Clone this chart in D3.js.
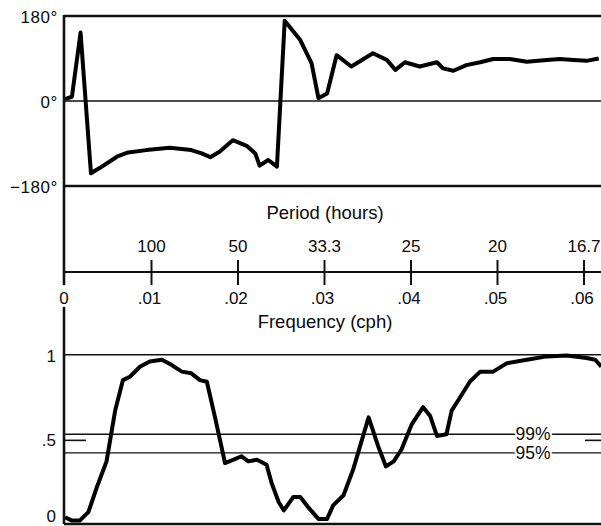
<!DOCTYPE html>
<html>
<head>
<meta charset="utf-8">
<script src="https://cdn.jsdelivr.net/npm/d3@7"></script>
<style>
  body { margin: 0; background: #fff; }
  svg text { font-family: "Liberation Sans", Arial, sans-serif; fill: #0a0a0a; }
</style>
</head>
<body>
<div id="chart"></div>
<script>
// phase (degrees) vs frequency (cph)
const phaseFreq = [0.0000, 0.0008, 0.0018, 0.0030, 0.0040, 0.0060, 0.0073, 0.0094, 0.0121, 0.0146,
    0.0158, 0.0168, 0.0179, 0.0194, 0.0210, 0.0220, 0.0225, 0.0235, 0.0245, 0.0254,
    0.0272, 0.0285, 0.0293, 0.0303, 0.0314, 0.0331, 0.0356, 0.0372, 0.0382, 0.0393,
    0.0410, 0.0430, 0.0437, 0.0449, 0.0464, 0.0480, 0.0495, 0.0514, 0.0534, 0.0557,
    0.0572, 0.0588, 0.0603, 0.0617];
const phaseDeg = [4, 9, 145, -153, -142, -118, -109, -104, -99, -104,
    -111, -119, -107, -83, -95, -111, -137, -125, -139, 170,
    129, 80, 6, 16, 97, 73, 101, 87, 66, 82,
    73, 82, 69, 64, 76, 82, 89, 89, 83, 87,
    89, 87, 85, 90];

// coherence vs frequency
const cohFreq = [0.0000, 0.0008, 0.0017, 0.0027, 0.0037, 0.0048, 0.0058, 0.0067, 0.0075, 0.0087,
    0.0098, 0.0112, 0.0123, 0.0135, 0.0146, 0.0156, 0.0164, 0.0173, 0.0185, 0.0195,
    0.0204, 0.0212, 0.0222, 0.0233, 0.0239, 0.0247, 0.0253, 0.0264, 0.0272, 0.0281,
    0.0293, 0.0303, 0.0310, 0.0322, 0.0333, 0.0351, 0.0362, 0.0371, 0.0380, 0.0389,
    0.0401, 0.0414, 0.0422, 0.0430, 0.0441, 0.0447, 0.0457, 0.0468, 0.0480, 0.0495,
    0.0511, 0.0534, 0.0557, 0.0580, 0.0603, 0.0613, 0.0620];
const cohVal = [0.04, 0.02, 0.02, 0.07, 0.22, 0.37, 0.67, 0.85, 0.87, 0.93,
    0.96, 0.97, 0.94, 0.90, 0.89, 0.85, 0.84, 0.64, 0.36, 0.38,
    0.40, 0.37, 0.38, 0.35, 0.24, 0.13, 0.08, 0.16, 0.16, 0.10,
    0.03, 0.03, 0.11, 0.17, 0.32, 0.63, 0.46, 0.34, 0.37, 0.44,
    0.59, 0.69, 0.64, 0.52, 0.53, 0.67, 0.75, 0.84, 0.90, 0.90,
    0.95, 0.97, 0.99, 0.995, 0.98, 0.97, 0.93];

const freqTicks = [0.01, 0.02, 0.03, 0.04, 0.05, 0.06];
const freqLabels = [".01", ".02", ".03", ".04", ".05", ".06"];
const periodLabels = ["100", "50", "33.3", "25", "20", "16.7"];
const phaseTicks = [180, 0, -180];
const phaseLabels = ["180°", "0°", "−180°"];
const cohTicks = [1, 0.5, 0];
const cohLabels = ["1", ".5", "0"];
const sigLevels = [0.53, 0.42];
const sigLabels = ["99%", "95%"];

const width = 601, height = 526;
const x0 = 65;

const svg = d3.select("#chart").append("svg")
    .attr("width", width)
    .attr("height", height);

const x = d3.scaleLinear().domain([0, 0.01]).range([x0, x0 + 86.5]);
const yPhase = d3.scaleLinear().domain([-180, 180]).range([186, 16]);
const yCoh = d3.scaleLinear().domain([0, 1]).range([524, 354.7]);

// ---- top panel: phase ----
const gPhase = svg.append("g");

// frame lines at 180 and -180 (heavier), zero line lighter
gPhase.selectAll(".hline")
    .data(phaseTicks)
    .join("line")
    .attr("x1", x0 - 1).attr("x2", width)
    .attr("y1", d => yPhase(d)).attr("y2", d => yPhase(d))
    .attr("stroke", "#111")
    .attr("stroke-width", d => d === 0 ? 1.6 : 2.4);

gPhase.selectAll(".plabel")
    .data(phaseTicks)
    .join("text")
    .attr("x", 58)
    .attr("y", d => yPhase(d) + 7)
    .attr("text-anchor", "end")
    .attr("font-size", 17)
    .attr("letter-spacing", 0.6)
    .text((d, i) => phaseLabels[i]);

// left vertical line from top of phase panel down to the frequency axis tick
svg.append("line")
    .attr("x1", x0 - 1).attr("x2", x0 - 1)
    .attr("y1", yPhase(180) - 1).attr("y2", 285)
    .attr("stroke", "#111").attr("stroke-width", 2.6);

const phaseLine = d3.line()
    .x((d, i) => x(phaseFreq[i]))
    .y(d => yPhase(d));

gPhase.append("path")
    .datum(phaseDeg)
    .attr("d", phaseLine)
    .attr("fill", "none")
    .attr("stroke", "#000")
    .attr("stroke-width", 4)
    .attr("stroke-linejoin", "round");

// ---- middle: frequency / period axis ----
const axisY = 272;
svg.append("text")
    .attr("x", 325).attr("y", 219)
    .attr("text-anchor", "middle")
    .attr("font-size", 18.5)
    .text("Period (hours)");

svg.append("line")
    .attr("x1", x0 - 1).attr("x2", width)
    .attr("y1", axisY).attr("y2", axisY)
    .attr("stroke", "#111").attr("stroke-width", 1.8);

svg.selectAll(".ftick")
    .data(freqTicks)
    .join("line")
    .attr("x1", d => x(d)).attr("x2", d => x(d))
    .attr("y1", axisY - 12).attr("y2", axisY + 13)
    .attr("stroke", "#111").attr("stroke-width", 2);

svg.selectAll(".perlabel")
    .data(freqTicks)
    .join("text")
    .attr("x", d => x(d))
    .attr("y", 252)
    .attr("text-anchor", "middle")
    .attr("font-size", 17)
    .text((d, i) => periodLabels[i]);

svg.selectAll(".flabel")
    .data(freqTicks)
    .join("text")
    .attr("x", d => x(d) - 2)
    .attr("y", 304)
    .attr("text-anchor", "middle")
    .attr("font-size", 17)
    .text((d, i) => freqLabels[i]);

svg.append("text")
    .attr("x", x(0) - 1).attr("y", 304)
    .attr("text-anchor", "middle")
    .attr("font-size", 17)
    .text("0");

svg.append("text")
    .attr("x", 325).attr("y", 328)
    .attr("text-anchor", "middle")
    .attr("font-size", 18.5)
    .text("Frequency (cph)");

// ---- bottom panel: coherence ----
const gCoh = svg.append("g");

svg.append("line")
    .attr("x1", x0 - 1).attr("x2", x0 - 1)
    .attr("y1", 307).attr("y2", yCoh(0))
    .attr("stroke", "#111").attr("stroke-width", 2.6);

gCoh.selectAll(".cline")
    .data([1, 0])
    .join("line")
    .attr("x1", x0 - 1).attr("x2", width)
    .attr("y1", d => yCoh(d)).attr("y2", d => yCoh(d))
    .attr("stroke", "#111")
    .attr("stroke-width", d => d === 0 ? 2.4 : 1.6);

gCoh.selectAll(".clabel")
    .data(cohTicks)
    .join("text")
    .attr("x", 56)
    .attr("y", d => Math.min(yCoh(d) + 7, height - 4))
    .attr("text-anchor", "end")
    .attr("font-size", 17)
    .text((d, i) => cohLabels[i]);

// short ticks at .5 on both sides
gCoh.selectAll(".halftick")
    .data([[x0, x0 + 21], [585, width]])
    .join("line")
    .attr("x1", d => d[0]).attr("x2", d => d[1])
    .attr("y1", yCoh(0.5) + 1).attr("y2", yCoh(0.5) + 1)
    .attr("stroke", "#111").attr("stroke-width", 1.6);

// significance levels
gCoh.selectAll(".sig")
    .data(sigLevels)
    .join("line")
    .attr("x1", x0 - 1).attr("x2", width)
    .attr("y1", d => yCoh(d)).attr("y2", d => yCoh(d))
    .attr("stroke", "#111").attr("stroke-width", 1.4);

const cohLine = d3.line()
    .x((d, i) => x(cohFreq[i]))
    .y(d => yCoh(d));

gCoh.append("path")
    .datum(cohVal)
    .attr("d", cohLine)
    .attr("fill", "none")
    .attr("stroke", "#000")
    .attr("stroke-width", 4)
    .attr("stroke-linejoin", "round");

gCoh.selectAll(".siglabel")
    .data(sigLevels)
    .join("text")
    .attr("x", 533)
    .attr("y", d => yCoh(d) + 6)
    .attr("text-anchor", "middle")
    .attr("font-size", 17.5)
    .attr("stroke", "#fff")
    .attr("stroke-width", 4)
    .attr("paint-order", "stroke")
    .text((d, i) => sigLabels[i]);
</script>
</body>
</html>
